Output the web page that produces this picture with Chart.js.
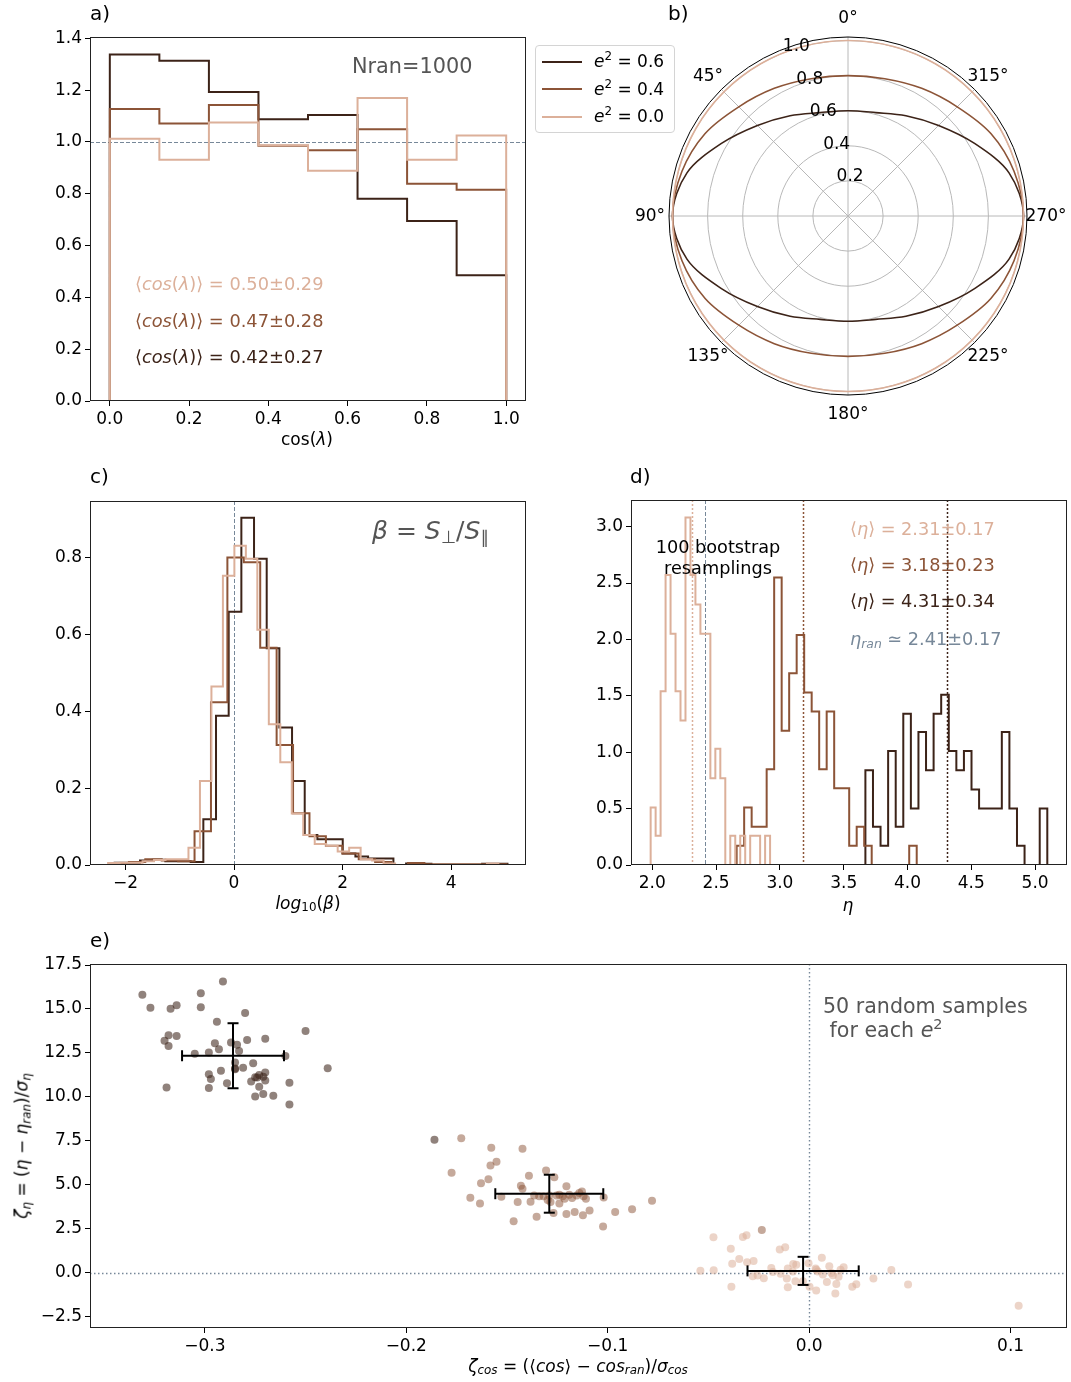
<!DOCTYPE html>
<html>
<head>
<meta charset="utf-8">
<title>Alignment statistics</title>
<script src="https://cdn.jsdelivr.net/npm/chart.js@4.4.1/dist/chart.umd.min.js"></script>
<style>
  html, body { margin: 0; padding: 0; background: #fff; overflow: hidden; }
  #fig { position: relative; width: 1071px; height: 1382px; font-family: 'DejaVu Sans', sans-serif; color: #000; }
  #fig canvas { position: absolute; }
  .t { position: absolute; white-space: nowrap; line-height: 1; }
  .t sub, .t sup, .legend sup { font-size: 0.7em; line-height: 0; }
  .t sub { vertical-align: -0.25em; }
  .t sup, .legend sup { vertical-align: 0.55em; }
  .legend { position: absolute; left: 535px; top: 45px; width: 140px; height: 88px; box-sizing: border-box;
            border: 1px solid #d4d4d4; border-radius: 4px; background: rgba(255,255,255,0.8);
            padding: 2px 0 0 6px; font-size: 17px; z-index: 2; }
  .legend .row { height: 27.5px; display: flex; align-items: center; white-space: nowrap; }
  .legend .swatch { display: inline-block; width: 40px; height: 2px; margin-right: 12px; }
  .legend .lbl { line-height: 1; }
</style>
</head>
<body>
<div id="fig"></div>
<script>
// Five panels: a) cos(lambda) histograms, b) polar shapes, c) log10(beta),
// d) bootstrap eta, e) zeta_eta vs zeta_cos for random samples

const DARK = '#3c2318';   // e^2 = 0.6
const MED = '#8c5437';    // e^2 = 0.4
const LIGHT = '#dcb09a';  // e^2 = 0.0
const SLATE = '#778899';
const FONT = "'DejaVu Sans', sans-serif";

// ---- a) cos(lambda), 8 bins on [0, 1] ----
const A_BIN0 = 0, A_BINW = 0.125;
const A_DARK  = [1.337, 1.313, 1.193, 1.088, 1.104, 0.781, 0.695, 0.485];
const A_MED   = [1.127, 1.071, 1.143, 0.985, 0.968, 1.049, 0.839, 0.815];
const A_LIGHT = [1.012, 0.931, 1.075, 0.987, 0.889, 1.170, 0.931, 1.025];
const A_MEAN = [0.50, 0.47, 0.42];   // light, med, dark
const A_STD  = [0.29, 0.28, 0.27];
const A_REF_Y = [1.0];
const A_XTICKS = [0, 0.2, 0.4, 0.6, 0.8, 1.0];
const A_YTICKS = [0, 0.2, 0.4, 0.6, 0.8, 1.0, 1.2, 1.4];

// ---- b) polar shapes, r read every 15 deg (theta counter-clockwise from top) ----
const B_THETA = [0, 15, 30, 45, 60, 75, 90, 105, 120, 135, 150, 165, 180, 195, 210, 225, 240, 255, 270, 285, 300, 315, 330, 345];
const B_R_DARK  = [0.60, 0.61, 0.66, 0.73, 0.83, 0.95, 1.00, 0.95, 0.83, 0.73, 0.66, 0.61, 0.60, 0.61, 0.66, 0.73, 0.83, 0.95, 1.00, 0.95, 0.83, 0.73, 0.66, 0.61];
const B_R_MED   = [0.80, 0.81, 0.84, 0.88, 0.94, 0.98, 1.00, 0.98, 0.94, 0.88, 0.84, 0.81, 0.80, 0.81, 0.84, 0.88, 0.94, 0.98, 1.00, 0.98, 0.94, 0.88, 0.84, 0.81];
const B_R_LIGHT = [1.00, 1.00, 1.00, 1.00, 1.00, 1.00, 1.00, 1.00, 1.00, 1.00, 1.00, 1.00, 1.00, 1.00, 1.00, 1.00, 1.00, 1.00, 1.00, 1.00, 1.00, 1.00, 1.00, 1.00];
const B_E2 = [0.6, 0.4, 0.0];
const B_RTICKS = [0, 0.2, 0.4, 0.6, 0.8, 1.0];
const B_ANGLE_TICKS = [0, 45, 90, 135, 180, 225, 270, 315];

// ---- c) log10(beta), each series has its own bins ----
const C_DARK_BIN0 = -2.2, C_DARK_BINW = 0.2335;
const C_DARK = [0.006, 0.006, 0.012, 0.014, 0.010, 0.010, 0.008, 0.119, 0.389, 0.660, 0.905, 0.798, 0.565, 0.358, 0.219, 0.078,
                0.067, 0.067, 0.030, 0.022, 0.017, 0.017, 0, 0.004, 0.003, 0, 0, 0, 0, 0.003, 0.003];
const C_MED_BIN0 = -2.24, C_MED_BINW = 0.3025;
const C_MED = [0.005, 0.008, 0.015, 0.012, 0.010, 0.088, 0.424, 0.801, 0.789, 0.566, 0.313, 0.135, 0.075, 0.050, 0.030, 0.015,
               0.008, 0, 0.005, 0.002, 0.002, 0.002, 0.002, 0.002];
const C_LIGHT_BIN0 = -2.32, C_LIGHT_BINW = 0.2115;
const C_LIGHT = [0.005, 0.006, 0.006, 0.010, 0.013, 0.015, 0.015, 0.045, 0.219, 0.465, 0.754, 0.832, 0.798, 0.613, 0.367, 0.268,
                 0.134, 0.078, 0.055, 0.050, 0.035, 0.045, 0.015, 0.012, 0.004, 0, 0, 0, 0, 0, 0, 0, 0, 0.004, 0];
const C_REF_X = [0];
const C_XTICKS = [-2, 0, 2, 4];
const C_YTICKS = [0, 0.2, 0.4, 0.6, 0.8];

// ---- d) eta from 100 bootstrap resamplings ----
const D_LIGHT_BIN0 = 1.987, D_LIGHT_BINW = 0.039;
const D_LIGHT = [0.51, 0.26, 1.54, 2.57, 2.05, 1.54, 1.28, 3.08, 2.57, 2.31, 2.05, 2.05, 0.77, 1.03, 0.77, 0, 0.26, 0, 0.26, 0, 0.26, 0.26, 0, 0.26];
const D_MED_BIN0 = 2.661, D_MED_BINW = 0.0588;
const D_MED = [0.17, 0.51, 0.34, 0.34, 0.85, 2.55, 1.19, 1.70, 2.04, 1.53, 1.36, 0.85, 1.36, 0.68, 0.68, 0.17, 0.34, 0.17, 0, 0, 0, 0, 0, 0.17];
const D_DARK_BIN0 = 3.670, D_DARK_BINW = 0.0594;
const D_DARK = [0.84, 0.34, 0.17, 1.01, 0.34, 1.34, 0.50, 1.18, 0.84, 1.34, 1.51, 1.01, 0.84, 1.01, 0.67, 0.50, 0.50, 0.50, 1.18, 0.50, 0.17, 0, 0, 0.50];
const D_MEAN = [2.31, 3.18, 4.31];   // light, med, dark
const D_STD  = [0.17, 0.23, 0.34];
const D_ETA_RAN = 2.41, D_ETA_RAN_STD = 0.17;
const D_XTICKS = [2.0, 2.5, 3.0, 3.5, 4.0, 4.5, 5.0];
const D_YTICKS = [0, 0.5, 1.0, 1.5, 2.0, 2.5, 3.0];

// ---- e) 50 random samples for each e^2 ----
const E_DARK_X = [-0.331, -0.327, -0.317, -0.314, -0.302, -0.291, -0.302, -0.280, -0.294, -0.318, -0.320, -0.318, -0.314, -0.250, -0.239, -0.305, -0.298,
                  -0.295, -0.293, -0.287, -0.284, -0.283, -0.279, -0.270, -0.260, -0.276, -0.281, -0.285, -0.292, -0.298, -0.297, -0.289, -0.298, -0.319,
                  -0.277, -0.275, -0.273, -0.270, -0.270, -0.273, -0.275, -0.271, -0.266, -0.258, -0.258, -0.285, -0.285, -0.274, -0.271, -0.186];
const E_DARK_Y = [15.81, 15.07, 15.02, 15.21, 15.89, 16.57, 15.10, 14.77, 14.28, 13.50, 13.20, 12.90, 13.47, 13.75, 11.63, 12.46, 12.52,
                  13.05, 12.71, 13.09, 12.97, 12.61, 13.24, 13.31, 12.33, 11.91, 11.65, 11.57, 11.49, 11.29, 11.01, 10.78, 10.51, 10.53,
                  10.87, 11.12, 11.25, 11.38, 10.93, 10.57, 10.02, 10.17, 10.06, 10.81, 9.56, 11.61, 11.95, 11.10, 11.15, 7.56];
const E_MED_X = [-0.1727, -0.1578, -0.1423, -0.1775, -0.1552, -0.1582, -0.1592, -0.1629, -0.1391, -0.1306, -0.1265, -0.1431, -0.1423, -0.1682, -0.1634, -0.1528, -0.1447,
                 -0.1383, -0.1365, -0.1318, -0.1298, -0.1254, -0.1240, -0.1205, -0.1214, -0.1191, -0.1177, -0.1154, -0.1128, -0.1120, -0.1108, -0.1020, -0.1269, -0.1205,
                 -0.1164, -0.1123, -0.1090, -0.1353, -0.1467, -0.1023, -0.0963, -0.0879, -0.0780, -0.1240, -0.1290, -0.1340, -0.1224, -0.1141, -0.1284, -0.0235];
const E_MED_Y = [7.65, 7.10, 7.05, 5.68, 6.31, 6.10, 5.32, 5.08, 5.51, 5.81, 5.42, 4.94, 4.77, 4.26, 3.94, 4.32, 4.02,
                 4.03, 4.39, 4.34, 4.13, 4.39, 3.94, 4.92, 4.20, 4.43, 4.24, 4.39, 4.62, 4.34, 4.20, 4.28, 3.39, 3.33,
                 3.45, 3.26, 3.54, 3.18, 2.92, 2.63, 3.45, 3.60, 4.09, 4.43, 4.39, 4.34, 4.34, 4.53, 4.02, 2.43];
const E_LIGHT_X = [-0.0475, -0.0329, -0.0311, -0.0389, -0.0146, -0.0119, -0.0382, -0.0347, -0.0308, -0.0276, -0.0540, -0.0474, -0.0188, -0.0142, -0.0106, -0.0079, -0.0256,
                   -0.0225, -0.0111, -0.0068, -0.0106, -0.0386, -0.0003, 0.0032, 0.0063, 0.0100, 0.0068, 0.0118, 0.0146, 0.0156, 0.0171, 0.0088, 0.0135, 0.0002,
                   0.0035, 0.0130, 0.0214, 0.0234, 0.0319, 0.0408, 0.0491, 0.1040, -0.0081, -0.0031, -0.0064, 0.0043, 0.0111, -0.0280, -0.0180, 0.0035];
const E_LIGHT_Y = [2.01, 2.03, 2.12, 1.36, 1.32, 1.44, 0.51, 0.78, 0.59, 0.66, 0.11, 0.13, 0.27, -0.06, 0.23, 0.49, -0.17,
                   -0.32, -0.34, -0.49, -0.83, -0.81, 0.53, 0.23, 0.85, 0.36, -0.11, -0.15, -0.23, 0.17, 0.30, -0.53, -0.64, -0.81,
                   -1.02, -1.19, -0.81, -0.66, -0.34, 0.15, -0.68, -1.88, 0.07, -0.49, 0.45, 0.07, -0.02, -0.21, 0.04, 0.17];
const E_MEAN_X = [-0.286, -0.129, -0.003];   // dark, med, light
const E_MEAN_Y = [12.34, 4.49, 0.10];
const E_ERR_X = [0.0253, 0.0268, 0.0276];
const E_ERR_Y = [1.85, 1.08, 0.80];
const E_REF = [0];
const E_XTICKS = [-0.3, -0.2, -0.1, 0.0, 0.1];
const E_YTICKS = [-2.5, 0, 2.5, 5, 7.5, 10, 12.5, 15, 17.5];

// ------------------------------------------------------------------------

const fig = document.getElementById('fig');
const TICK_SIZE = 17;
Chart.defaults.font.family = FONT;
Chart.defaults.font.size = TICK_SIZE;
Chart.defaults.color = '#000';

const PAD_L = 62, PAD_T = 14, PAD_B = 44;
const minus = s => s.replace('-', '\u2212');

function makeCanvas(left, top, width, height) {
  const c = document.createElement('canvas');
  c.width = width; c.height = height;
  c.style.cssText = `left:${left}px;top:${top}px;width:${width}px;height:${height}px`;
  fig.appendChild(c);
  return c;
}

function text(x, y, html, { size = 17, color = '#000', align = 'left', rotate = 0, lh = 0 } = {}) {
  const el = document.createElement('div');
  el.className = 't';
  el.innerHTML = html;
  const tx = align === 'center' ? '-50%' : align === 'right' ? '-100%' : '0';
  el.style.cssText = `left:${x}px;top:${y}px;font-size:${size}px;color:${color};text-align:${align};` +
    (lh ? `line-height:${lh}px;` : '') +
    `transform:translate(${tx},-50%)${rotate ? ` rotate(${rotate}deg)` : ''}`;
  fig.appendChild(el);
}

// matplotlib 'step' outline: up at the first edge, across every bin, down at the last edge
function hist(start, width, heights) {
  const pts = [{ x: start, y: 0 }];
  heights.forEach((h, i) => pts.push({ x: start + i * width, y: h }));
  pts.push({ x: start + heights.length * width, y: 0 });
  return pts;
}

const stepLine = (pts, color, order) => ({
  data: pts, borderColor: color, borderWidth: 2, stepped: 'before', pointRadius: 0, fill: false, order,
});

function axis(min, max, ticks, digits, horizontal) {
  return {
    type: 'linear', min, max, bounds: 'data',
    afterBuildTicks: s => { s.ticks = ticks.map(v => ({ value: v })); },
    afterFit: s => { if (horizontal) s.height = PAD_B; else s.width = PAD_L; },
    border: { display: false },
    grid: { drawOnChartArea: false, drawTicks: true, tickLength: 5, tickColor: '#000', lineWidth: 1 },
    ticks: { autoSkip: false, maxRotation: 0, padding: 3, color: '#000', callback: v => minus(v.toFixed(digits)) },
  };
}

// reference lines (axhline / axvline) and the closed box round each axes
const axesDeco = {
  id: 'axesDeco',
  beforeDatasetsDraw(chart, args, opts) {
    const { ctx, chartArea: a, scales } = chart;
    ctx.save();
    ctx.beginPath(); ctx.rect(a.left, a.top, a.width, a.height); ctx.clip();
    for (const l of opts.lines || []) {
      ctx.strokeStyle = l.color; ctx.lineWidth = l.width; ctx.setLineDash(l.dash);
      ctx.beginPath();
      if (l.axis === 'x') {
        const p = Math.round(scales.x.getPixelForValue(l.value)) + 0.5;
        ctx.moveTo(p, a.top); ctx.lineTo(p, a.bottom);
      } else {
        const p = Math.round(scales.y.getPixelForValue(l.value)) + 0.5;
        ctx.moveTo(a.left, p); ctx.lineTo(a.right, p);
      }
      ctx.stroke();
    }
    ctx.restore();
  },
  afterDraw(chart) {
    const { ctx, chartArea: a } = chart;
    ctx.save();
    ctx.strokeStyle = '#222'; ctx.lineWidth = 1;
    ctx.strokeRect(Math.round(a.left) + 0.5, Math.round(a.top) + 0.5, Math.round(a.width) - 1, Math.round(a.height) - 1);
    ctx.restore();
  },
};

function panel(plot, type, datasets, x, y, lines, padR) {
  const c = makeCanvas(plot.l - PAD_L, plot.t - PAD_T, PAD_L + plot.w + padR, PAD_T + plot.h + PAD_B);
  return new Chart(c, {
    type,
    data: { datasets },
    options: {
      responsive: false, animation: false, devicePixelRatio: 1, events: [],
      layout: { autoPadding: false, padding: { left: 0, top: PAD_T, right: padR, bottom: 0 } },
      plugins: { legend: { display: false }, tooltip: { enabled: false }, axesDeco: { lines } },
      scales: { x, y },
    },
    plugins: [axesDeco],
  });
}

// ---- a) ----
panel({ l: 90, t: 37, w: 436, h: 364 }, 'line', [
  stepLine(hist(A_BIN0, A_BINW, A_LIGHT), LIGHT, 0),
  stepLine(hist(A_BIN0, A_BINW, A_MED), MED, 1),
  stepLine(hist(A_BIN0, A_BINW, A_DARK), DARK, 2),
], axis(-0.05, 1.05, A_XTICKS, 1, true), axis(0, 1.405, A_YTICKS, 1, false),
  A_REF_Y.map(v => ({ axis: 'y', value: v, color: SLATE, dash: [4, 2], width: 1 })), 14);

// ---- b) polar ----
const polarDeco = {
  id: 'polarDeco',
  afterDraw(chart) {
    const s = chart.scales.r, ctx = chart.ctx;
    const R = s.drawingArea, cx = s.xCenter, cy = s.yCenter;
    ctx.save();
    ctx.strokeStyle = '#000'; ctx.lineWidth = 1;
    ctx.beginPath(); ctx.arc(cx, cy, R, 0, Math.PI * 2); ctx.stroke();
    ctx.fillStyle = '#000';
    ctx.font = `${TICK_SIZE}px ${FONT}`;
    ctx.textAlign = 'center'; ctx.textBaseline = 'middle';
    for (const deg of B_ANGLE_TICKS) {
      const a = deg * Math.PI / 180;
      ctx.fillText(deg + '\u00b0', cx - (R + 19) * Math.sin(a), cy - (R + 19) * Math.cos(a) + 1);
    }
    // radial labels sit along 22.5 deg, left-aligned
    ctx.textAlign = 'left'; ctx.textBaseline = 'alphabetic';
    const a = 22.5 * Math.PI / 180;
    for (const v of B_RTICKS.slice(1)) {
      const d = s.getDistanceFromCenterForValue(v);
      ctx.fillText(v.toFixed(1), cx - d * Math.sin(a) + 2, cy - d * Math.cos(a) - 2.5);
    }
    ctx.restore();
  },
};

(function polar() {
  const n = B_THETA.length;
  // Chart.js walks the radar clockwise from the top, this plot counts counter-clockwise
  const cw = B_THETA.map((_, i) => (n - i) % n);
  const series = [[B_R_LIGHT, LIGHT], [B_R_MED, MED], [B_R_DARK, DARK]];
  const c = makeCanvas(628, 0, 443, 430);
  new Chart(c, {
    type: 'radar',
    data: {
      labels: cw.map(k => B_THETA[k] + '\u00b0'),
      datasets: series.map(([r, color]) => ({
        data: cw.map(k => r[k]), borderColor: color, borderWidth: 1.6, pointRadius: 0, tension: 0.33, fill: false,
      })),
    },
    options: {
      responsive: false, animation: false, devicePixelRatio: 1, events: [],
      layout: { autoPadding: false, padding: { left: 41, top: 37, right: 44, bottom: 35 } },
      plugins: { legend: { display: false }, tooltip: { enabled: false } },
      scales: {
        r: {
          min: 0, max: 1.02, bounds: 'data',
          afterBuildTicks: s => { s.ticks = B_RTICKS.map(v => ({ value: v })); },
          ticks: { display: false },
          pointLabels: { display: false },
          grid: { circular: true, color: '#b8b8b8', lineWidth: 1 },
          angleLines: { color: '#b8b8b8', lineWidth: ctx => (B_ANGLE_TICKS.includes(B_THETA[cw[ctx.index]]) ? 1 : 0) },
        },
      },
    },
    plugins: [polarDeco],
  });
})();

// legend shared by the figure (left of the polar panel)
const legend = document.createElement('div');
legend.className = 'legend';
legend.innerHTML = B_E2.map((e, i) => `<div class="row"><span class="swatch" style="background:${[DARK, MED, LIGHT][i]}"></span>` +
  `<span class="lbl"><i>e</i><sup>2</sup>&nbsp;=&nbsp;${e.toFixed(1)}</span></div>`).join('');
fig.appendChild(legend);

// ---- c) ----
panel({ l: 90, t: 501, w: 436, h: 364 }, 'line', [
  stepLine(hist(C_LIGHT_BIN0, C_LIGHT_BINW, C_LIGHT), LIGHT, 0),
  stepLine(hist(C_MED_BIN0, C_MED_BINW, C_MED), MED, 1),
  stepLine(hist(C_DARK_BIN0, C_DARK_BINW, C_DARK), DARK, 2),
], axis(-2.654, 5.38, C_XTICKS, 0, true), axis(0, 0.9485, C_YTICKS, 1, false),
  C_REF_X.map(v => ({ axis: 'x', value: v, color: SLATE, dash: [4, 2], width: 1 })), 14);

// ---- d) ----
panel({ l: 631, t: 500, w: 436, h: 365 }, 'line', [
  stepLine(hist(D_LIGHT_BIN0, D_LIGHT_BINW, D_LIGHT), LIGHT, 0),
  stepLine(hist(D_MED_BIN0, D_MED_BINW, D_MED), MED, 1),
  stepLine(hist(D_DARK_BIN0, D_DARK_BINW, D_DARK), DARK, 2),
], axis(1.833, 5.25, D_XTICKS, 1, true), axis(0, 3.236, D_YTICKS, 1, false), [
  ...D_MEAN.map((m, i) => ({ axis: 'x', value: m, color: [LIGHT, MED, DARK][i], dash: [2, 2], width: 1.5 })),
  { axis: 'x', value: D_ETA_RAN, color: SLATE, dash: [4, 2], width: 1 },
], 4);

// ---- e) ----
const pts = (xs, ys) => xs.map((x, i) => ({ x, y: ys[i] }));
const errBar = (data, capRot) => ({
  data, showLine: true, borderColor: '#000', borderWidth: 2,
  pointStyle: 'line', pointRadius: 5.5, pointRotation: capRot, pointBorderColor: '#000', pointBorderWidth: 2, order: 0,
});
const dots = (data, rgba) => ({
  data, backgroundColor: rgba, pointBackgroundColor: rgba, pointRadius: 4, pointBorderWidth: 0, order: 1,
});
const eSets = [
  dots(pts(E_DARK_X, E_DARK_Y), 'rgba(60,35,24,0.57)'),
  dots(pts(E_MED_X, E_MED_Y), 'rgba(140,84,55,0.5)'),
  dots(pts(E_LIGHT_X, E_LIGHT_Y), 'rgba(220,176,154,0.55)'),
];
E_MEAN_X.forEach((mx, i) => {
  const my = E_MEAN_Y[i];
  eSets.push(errBar([{ x: mx - E_ERR_X[i], y: my }, { x: mx + E_ERR_X[i], y: my }], 90));
  eSets.push(errBar([{ x: mx, y: my - E_ERR_Y[i] }, { x: mx, y: my + E_ERR_Y[i] }], 0));
});
panel({ l: 90, t: 964, w: 977, h: 364 }, 'scatter', eSets,
  axis(-0.357, 0.128, E_XTICKS, 1, true), axis(-3.15, 17.56, E_YTICKS, 1, false), [
    ...E_REF.map(v => ({ axis: 'x', value: v, color: SLATE, dash: [1.5, 2.5], width: 1.4 })),
    ...E_REF.map(v => ({ axis: 'y', value: v, color: SLATE, dash: [1.5, 2.5], width: 1.4 })),
  ], 4);

// ---- text ----
[['a)', 90, 13], ['b)', 668, 13], ['c)', 90, 476], ['d)', 630, 476], ['e)', 90, 940]]
  .forEach(([s, x, y]) => text(x, y, s, { size: 20 }));

text(352, 66, 'Nran=1000', { size: 20.8, color: '#555' });
[LIGHT, MED, DARK].forEach((col, i) => {
  text(135, 284 + i * 36.5, `\u27e8<i>cos</i>(<i>\u03bb</i>)\u27e9 = ${A_MEAN[i].toFixed(2)}\u00b1${A_STD[i].toFixed(2)}`, { size: 17.8, color: col });
});
text(307, 439, 'cos(<i>\u03bb</i>)', { align: 'center' });

text(372, 530, '<i>\u03b2</i> = <i>S</i><sub>\u22a5</sub>/<i>S</i><sub>\u2225</sub>', { size: 25, color: '#555' });
text(308, 903, '<i>log</i><sub>10</sub>(<i>\u03b2</i>)', { align: 'center' });

text(718, 557.5, '100 bootstrap<br>resamplings', { size: 17.7, align: 'center', lh: 21 });
[LIGHT, MED, DARK].forEach((col, i) => {
  text(850, 530 + i * 36, `\u27e8<i>\u03b7</i>\u27e9 = ${D_MEAN[i].toFixed(2)}\u00b1${D_STD[i].toFixed(2)}`, { size: 17.7, color: col });
});
text(850, 640, `<i>\u03b7</i><sub><i>ran</i></sub> \u2243 ${D_ETA_RAN.toFixed(2)}\u00b1${D_ETA_RAN_STD.toFixed(2)}`, { size: 17.7, color: SLATE });
text(848, 905, '<i>\u03b7</i>', { align: 'center' });

text(823, 1018, '50 random samples<br>&nbsp;for each <i>e</i><sup>2</sup>', { size: 20.6, color: '#555', lh: 24 });
text(578, 1366, '<i>\u03b6</i><sub><i>cos</i></sub> = (\u27e8<i>cos</i>\u27e9 \u2212 <i>cos</i><sub><i>ran</i></sub>)/<i>\u03c3</i><sub><i>cos</i></sub>', { align: 'center' });
text(22, 1146, '<i>\u03b6</i><sub><i>\u03b7</i></sub> = (<i>\u03b7</i> \u2212 <i>\u03b7</i><sub><i>ran</i></sub>)/<i>\u03c3</i><sub><i>\u03b7</i></sub>', { align: 'center', rotate: -90 });
</script>
</body>
</html>
